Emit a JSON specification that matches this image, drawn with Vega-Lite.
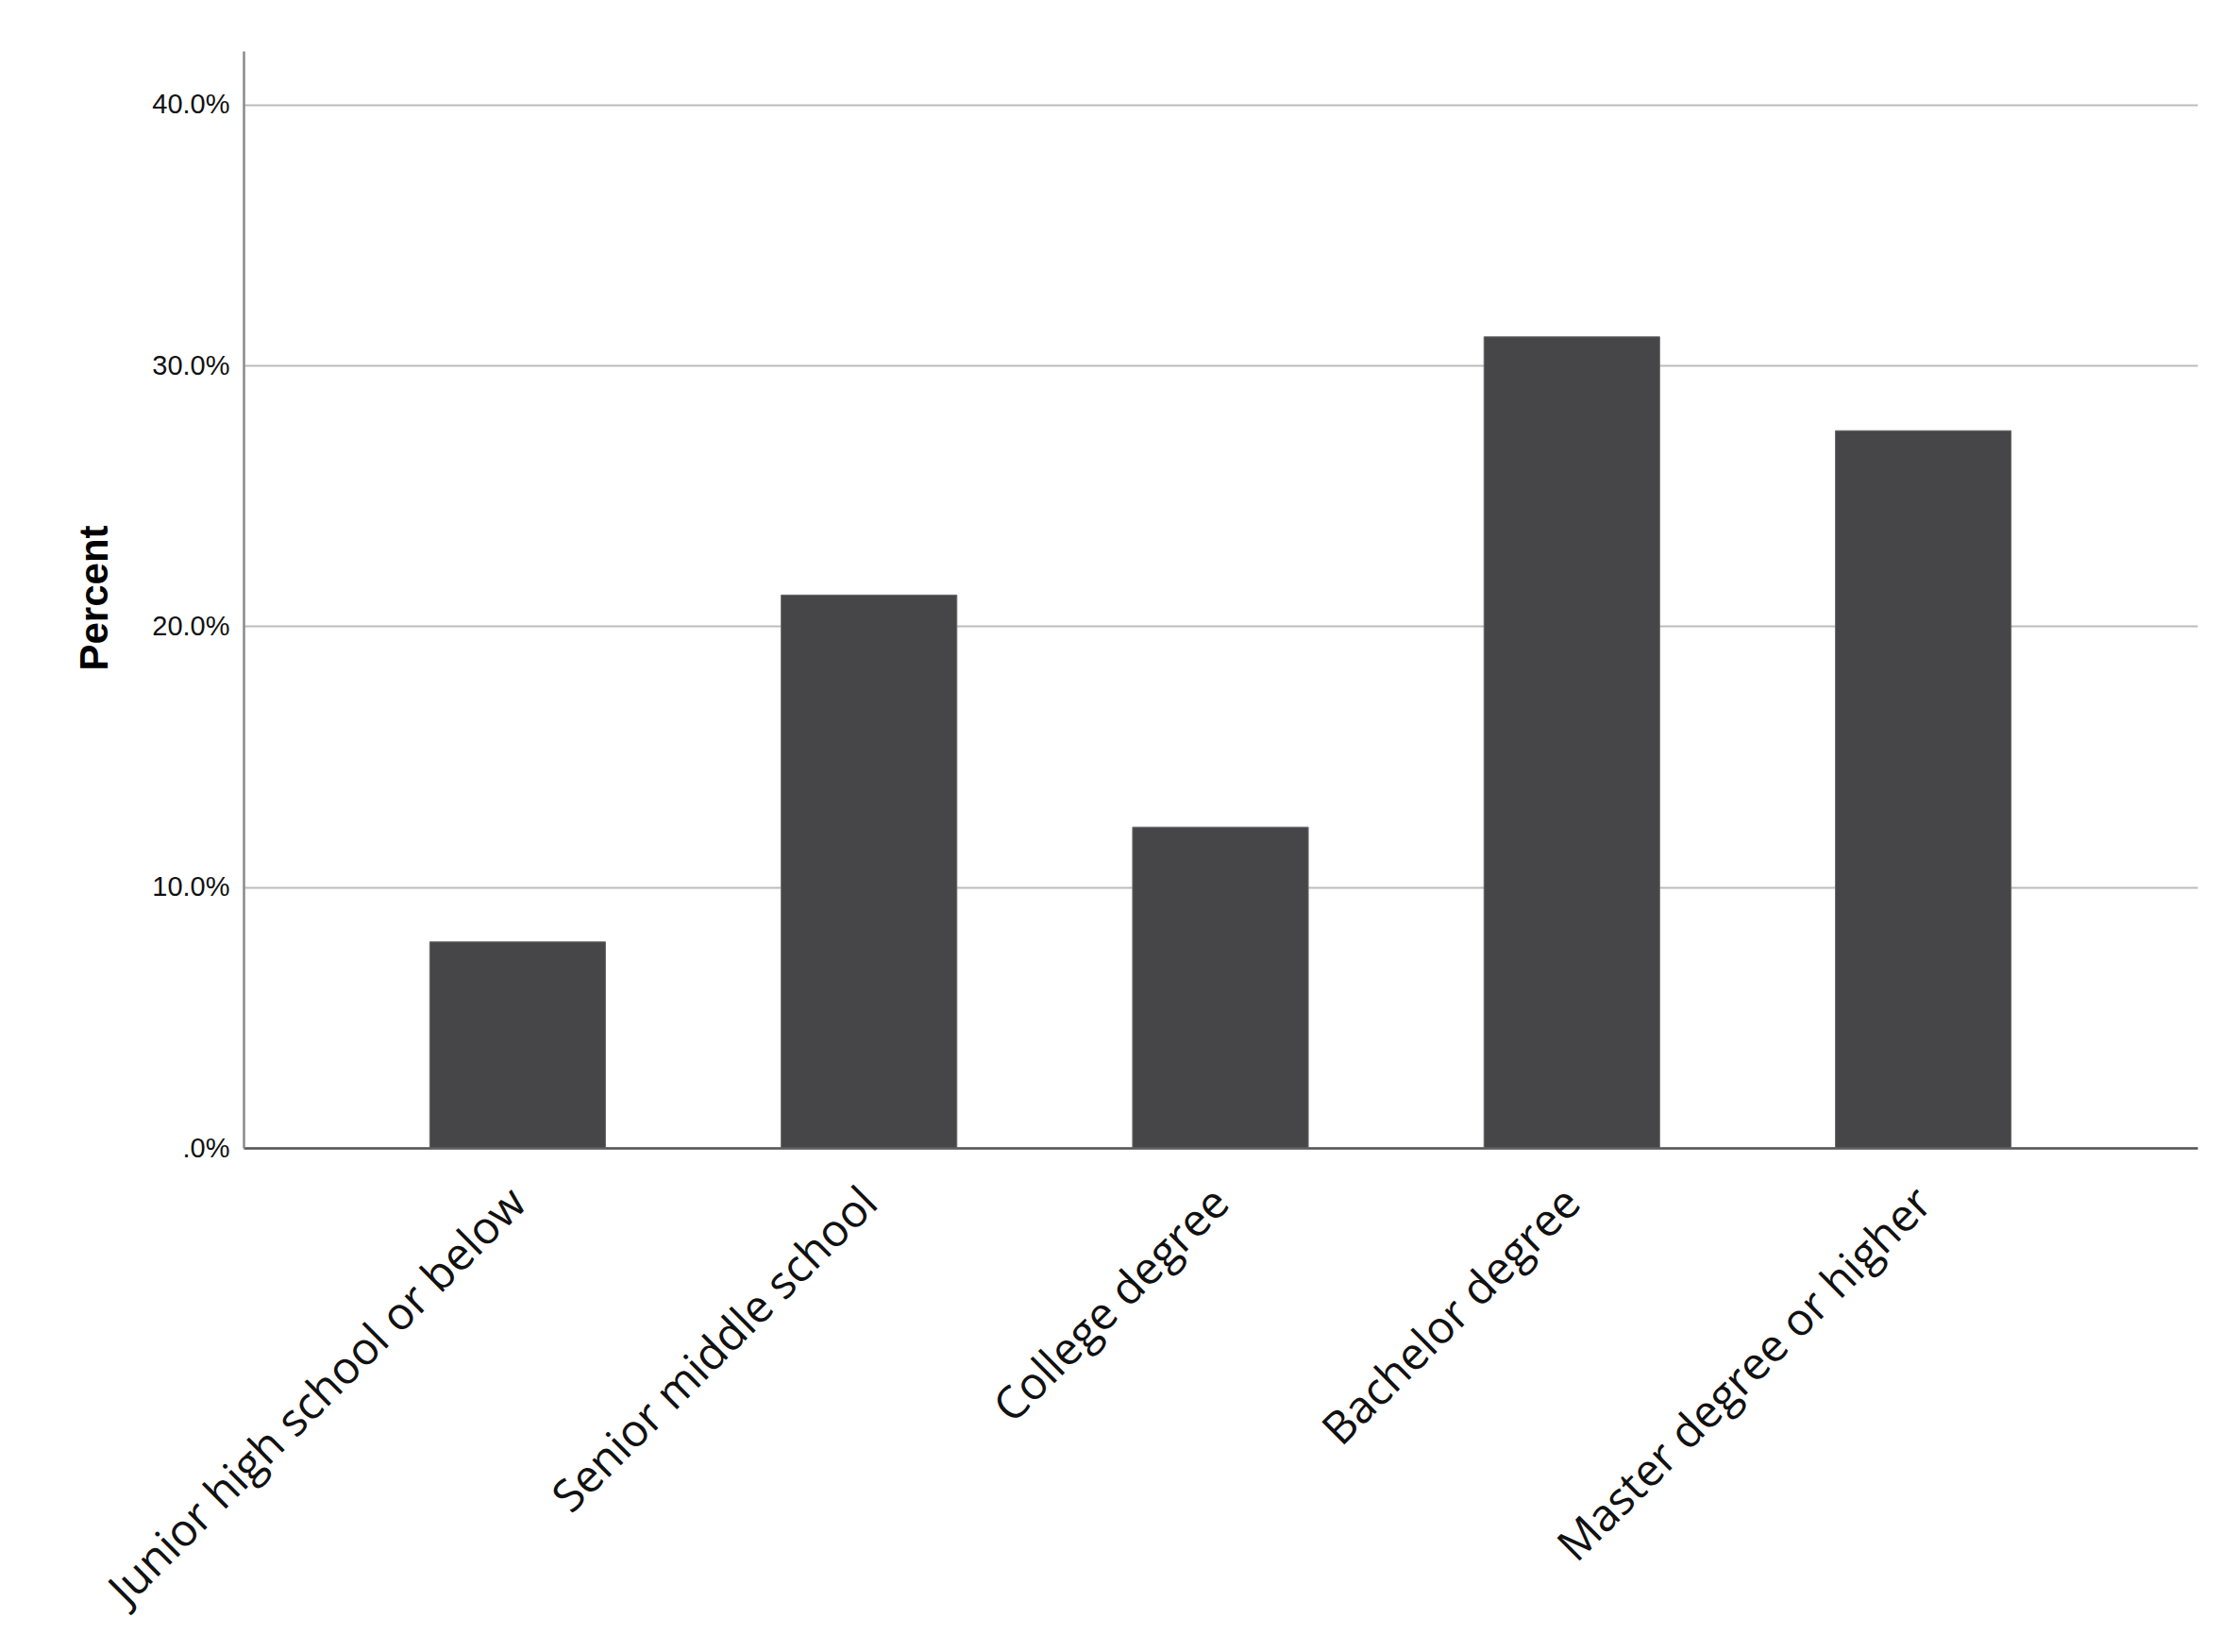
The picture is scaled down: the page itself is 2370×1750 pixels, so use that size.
{
  "$schema": "https://vega.github.io/schema/vega-lite/v6.json",
  "autosize": "none",
  "width": 2070,
  "height": 1162,
  "padding": {"left": 258, "top": 54, "right": 42, "bottom": 534},
  "background": "white",
  "data": {
    "values": [
      {"education": "Junior high school or below", "percent": 7.9},
      {"education": "Senior middle school", "percent": 21.2},
      {"education": "College degree", "percent": 12.3},
      {"education": "Bachelor degree", "percent": 31.1},
      {"education": "Master degree or higher", "percent": 27.5}
    ]
  },
  "mark": {"type": "bar", "color": "#464648", "stroke": "#6a6a6c", "strokeWidth": 1},
  "encoding": {
    "x": {
      "field": "education",
      "type": "nominal",
      "sort": null,
      "scale": {"paddingInner": 0.5, "paddingOuter": 0.53},
      "axis": {
        "title": null,
        "labelAngle": -45,
        "labelFont": "Open Sans",
        "labelFontSize": 47.5,
        "labelColor": "#111111",
        "labelPadding": 34,
        "labelOffset": -15,
        "labelLimit": 1000,
        "ticks": false,
        "domainColor": "#555555",
        "domainWidth": 2.5,
        "grid": false
      }
    },
    "y": {
      "field": "percent",
      "type": "quantitative",
      "scale": {"domain": [0, 42.06], "nice": false},
      "axis": {
        "title": "Percent",
        "titleFont": "Liberation Sans",
        "titleFontSize": 42,
        "titleFontWeight": "bold",
        "titleColor": "#000000",
        "titleX": -145,
        "titleY": 579,
        "titleAngle": -90,
        "titleAlign": "center",
        "titleBaseline": "alphabetic",
        "values": [0, 10, 20, 30, 40],
        "labelExpr": "datum.value == 0 ? '.0%' : format(datum.value, '.1f') + '%'",
        "labelFont": "Liberation Sans",
        "labelFontSize": 29,
        "labelColor": "#111111",
        "labelPadding": 15,
        "ticks": false,
        "domainColor": "#8a8a8a",
        "domainWidth": 2.5,
        "grid": true,
        "gridColor": "#bcbcbc",
        "gridWidth": 2
      }
    }
  },
  "config": {"view": {"stroke": null}}
}
